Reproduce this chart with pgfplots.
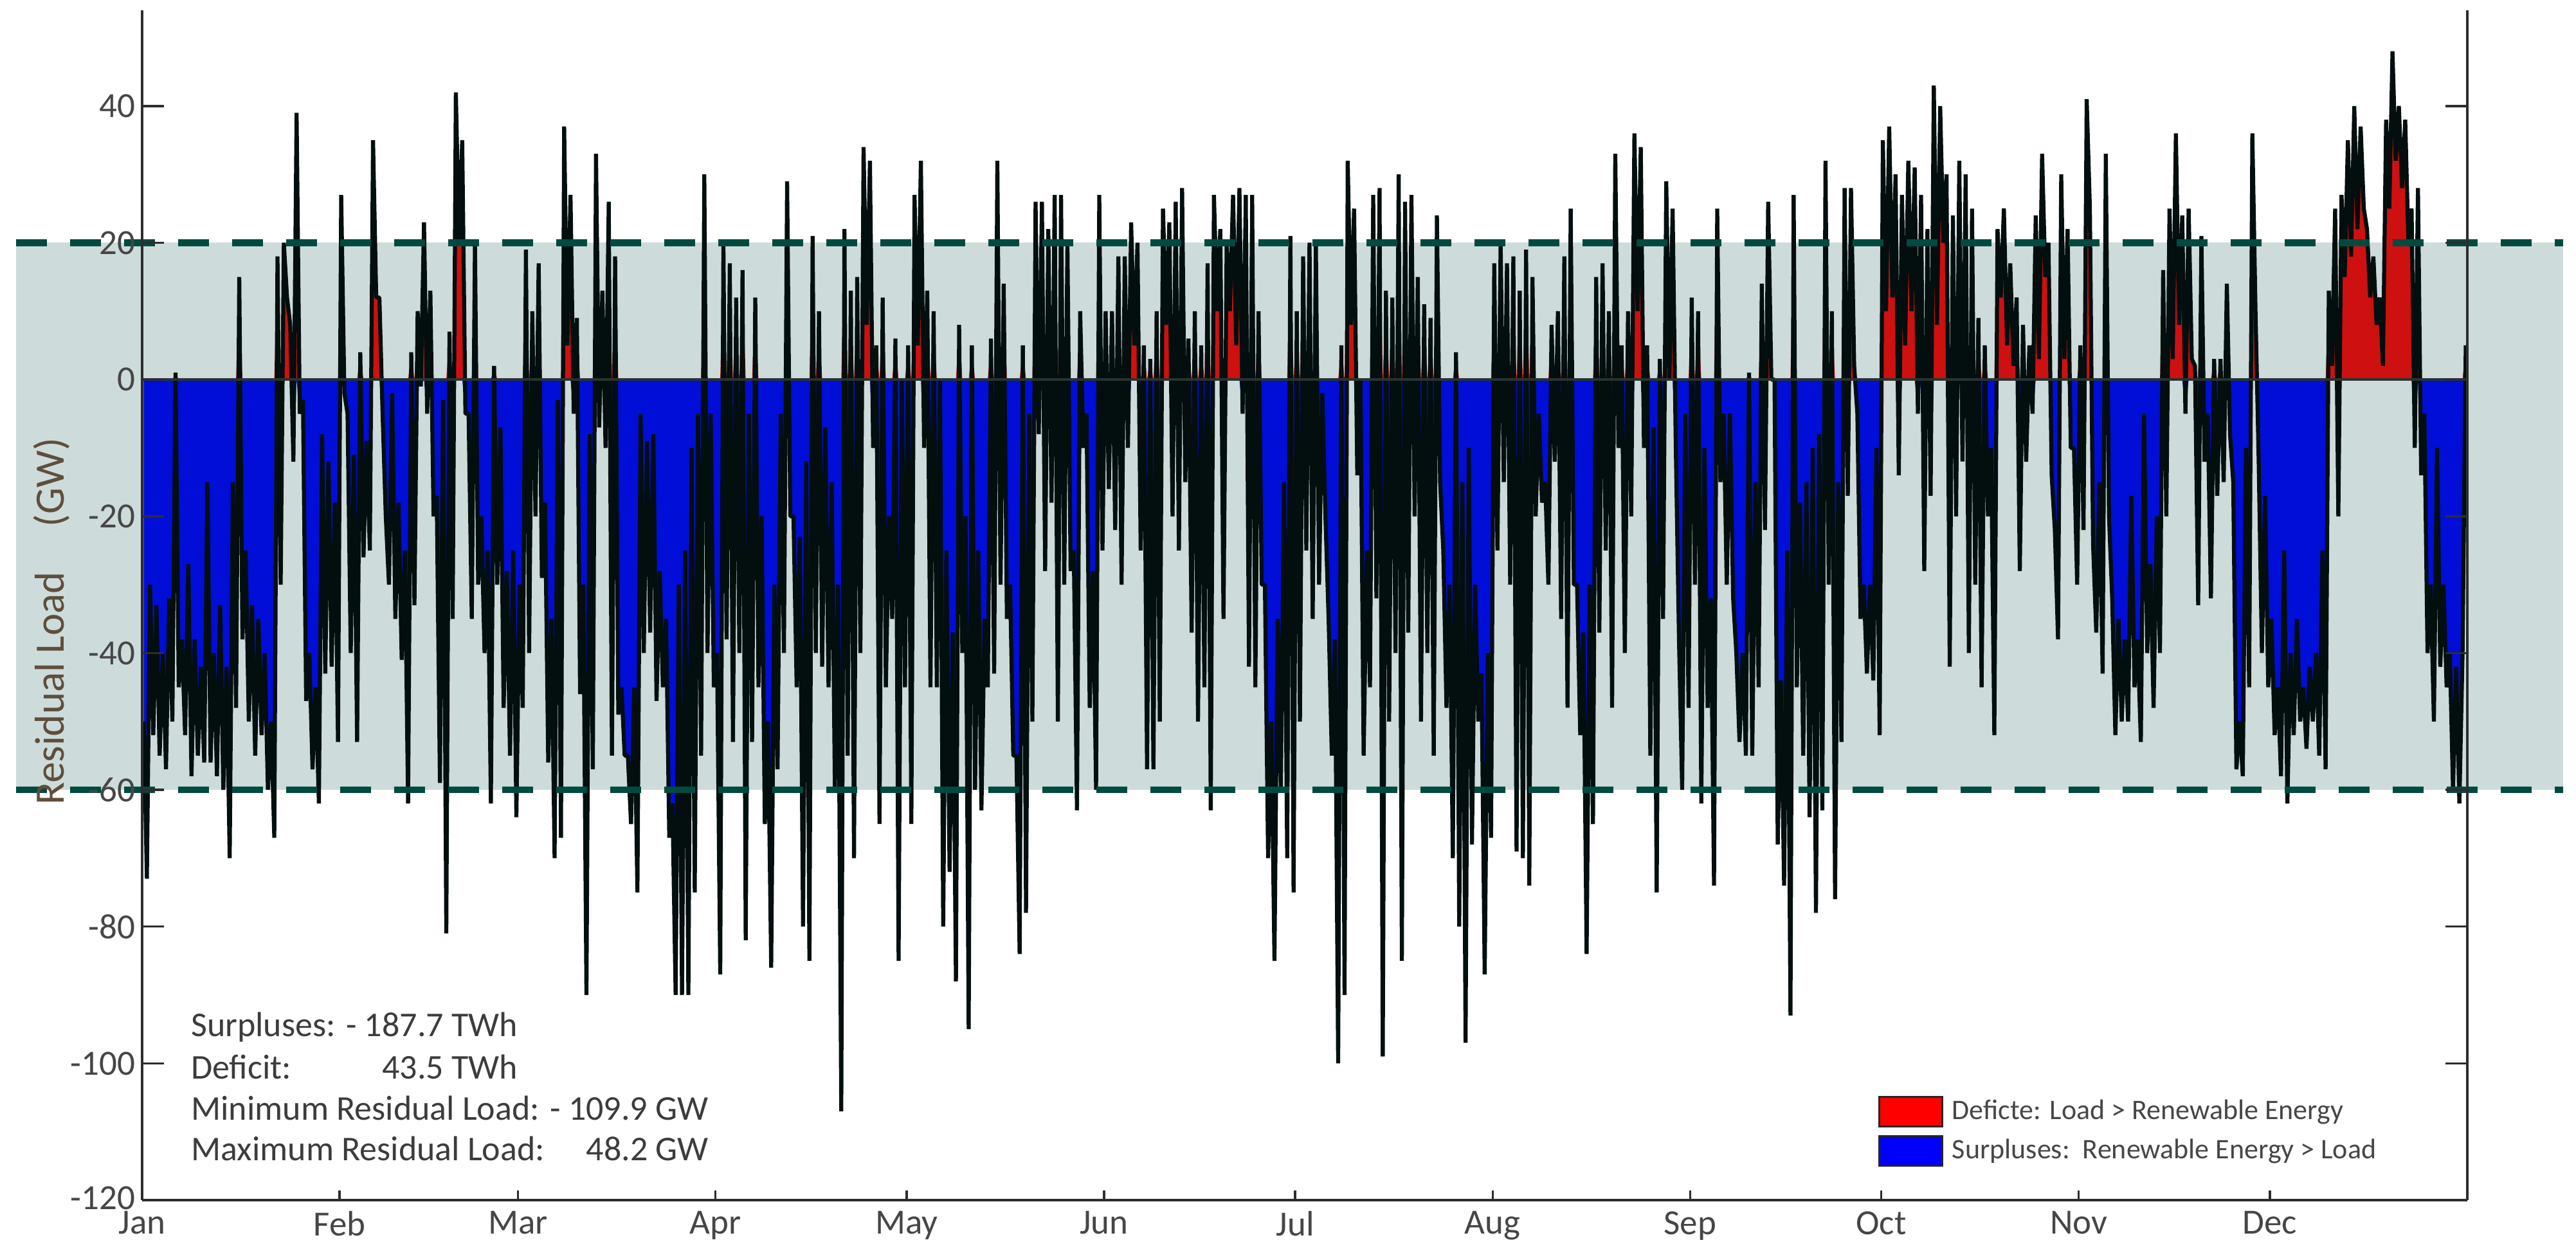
\documentclass[border=0pt]{standalone}
\usepackage{pgfplots}
\pgfplotsset{compat=1.18}
\usepackage{pgfplotstable}
\usepackage{fontspec}
\setmainfont{Carlito}
\definecolor{bandcol}{RGB}{205,219,219}
\definecolor{dashcol}{RGB}{0,74,64}
\definecolor{fillblue}{RGB}{0,14,216}
\definecolor{fillred}{RGB}{206,16,16}
\definecolor{legred}{RGB}{255,0,0}
\definecolor{legblue}{RGB}{0,0,255}
\definecolor{linecol}{RGB}{3,14,14}
\definecolor{axiscol}{RGB}{45,45,45}
\definecolor{labelcol}{RGB}{70,70,70}
\definecolor{statcol}{RGB}{60,60,60}
\definecolor{ylabcol}{RGB}{95,78,60}
\definecolor{zerocol}{RGB}{40,52,48}
\newcommand\statfont{\fontsize{10.8}{13}\selectfont}
% residual load, two readings per day (day 0 = 1 Jan)
\pgfplotstableread[row sep=\\]{v\\
-50\\ -73\\ -30\\ -52\\ -33\\ -55\\ -40\\ -57\\ -32\\ -50\\ 1\\ -45\\ -38\\ -52\\ -27\\ -58\\ -38\\ -55\\ -42\\ -56\\
-15\\ -56\\ -40\\ -58\\ -33\\ -60\\ -42\\ -70\\ -15\\ -48\\ 15\\ -38\\ -25\\ -50\\ -33\\ -55\\ -35\\ -52\\ -40\\ -60\\
-50\\ -67\\ 18\\ -30\\ 20\\ 12\\ 8\\ -12\\ 39\\ -5\\ -3\\ -47\\ -40\\ -57\\ -45\\ -62\\ -8\\ -43\\ -12\\ -42\\
-18\\ -53\\ 27\\ -2\\ -5\\ -40\\ -11\\ -53\\ 4\\ -26\\ -9\\ -25\\ 35\\ 12\\ 12\\ -5\\ -20\\ -30\\ -2\\ -35\\
-18\\ -41\\ -25\\ -62\\ 4\\ -33\\ 10\\ -1\\ 23\\ -5\\ 13\\ -20\\ -17\\ -59\\ -3\\ -81\\ 7\\ -35\\ 42\\ 20\\
35\\ -5\\ -5\\ -35\\ 20\\ -30\\ -20\\ -40\\ -25\\ -62\\ 2\\ -30\\ -7\\ -48\\ -28\\ -55\\ -25\\ -64\\ -30\\ -48\\
19\\ -40\\ 10\\ -20\\ 17\\ -29\\ -18\\ -56\\ -35\\ -70\\ -3\\ -67\\ 37\\ 5\\ 27\\ -5\\ 9\\ -46\\ -30\\ -90\\
-8\\ -57\\ 33\\ -7\\ 13\\ -10\\ 26\\ -55\\ 18\\ -49\\ -45\\ -55\\ -55\\ -65\\ -45\\ -75\\ -5\\ -40\\ -9\\ -37\\
-8\\ -47\\ -28\\ -45\\ -35\\ -67\\ -62\\ -90\\ -30\\ -90\\ -25\\ -90\\ -10\\ -75\\ -5\\ -55\\ 30\\ -40\\ -5\\ -45\\
-40\\ -87\\ 20\\ -38\\ 17\\ -53\\ 12\\ -40\\ 16\\ -82\\ -5\\ -53\\ 12\\ -45\\ -20\\ -65\\ -50\\ -86\\ -30\\ -57\\
-5\\ -40\\ 29\\ -20\\ -20\\ -45\\ -23\\ -80\\ -12\\ -85\\ 21\\ -40\\ 10\\ -42\\ -7\\ -45\\ -15\\ -60\\ -30\\ -107\\
22\\ -55\\ 13\\ -70\\ 15\\ -40\\ 34\\ 8\\ 32\\ -10\\ 5\\ -65\\ 12\\ -45\\ -20\\ -35\\ 6\\ -85\\ 0\\ -45\\
5\\ -65\\ 27\\ 5\\ 32\\ -10\\ 13\\ -45\\ 10\\ -45\\ 0\\ -80\\ -25\\ -72\\ -37\\ -88\\ 8\\ -40\\ -20\\ -95\\
5\\ -60\\ -25\\ -63\\ -35\\ -45\\ 6\\ -43\\ 32\\ -30\\ 14\\ -35\\ -30\\ -55\\ -55\\ -84\\ 5\\ -78\\ -5\\ -50\\
26\\ -8\\ 26\\ -28\\ 22\\ -18\\ 27\\ -50\\ 27\\ -30\\ 20\\ -28\\ -25\\ -63\\ 10\\ -10\\ -5\\ -48\\ -28\\ -60\\
27\\ -25\\ 10\\ -16\\ 10\\ -22\\ 18\\ -30\\ 18\\ -10\\ 23\\ 5\\ 20\\ -25\\ 5\\ -57\\ 3\\ -57\\ 10\\ -50\\
25\\ 8\\ 23\\ -20\\ 26\\ -25\\ 28\\ -15\\ 6\\ -37\\ 10\\ -50\\ 5\\ -45\\ 17\\ -63\\ 27\\ 10\\ 22\\ -35\\
20\\ 10\\ 27\\ 5\\ 28\\ -5\\ 27\\ -42\\ 27\\ -45\\ 10\\ -30\\ -30\\ -70\\ -50\\ -85\\ -35\\ -60\\ -15\\ -70\\
21\\ -75\\ 10\\ -50\\ 18\\ -25\\ 20\\ -35\\ 20\\ -30\\ -2\\ -20\\ -35\\ -55\\ -38\\ -100\\ 5\\ -90\\ 32\\ 8\\
25\\ -14\\ 0\\ -55\\ -25\\ -45\\ 27\\ -32\\ 28\\ -99\\ 13\\ -50\\ 12\\ -40\\ 30\\ -85\\ 26\\ -37\\ 27\\ -20\\
15\\ -50\\ 11\\ -40\\ 9\\ -55\\ 24\\ -15\\ -25\\ -48\\ -30\\ -70\\ 4\\ -80\\ -15\\ -97\\ -10\\ -68\\ -30\\ -50\\
-43\\ -87\\ -40\\ -67\\ 17\\ -25\\ 20\\ -15\\ 17\\ -30\\ 18\\ -69\\ 13\\ -70\\ 19\\ -74\\ 15\\ -20\\ -5\\ -18\\
-15\\ -30\\ 8\\ -12\\ 10\\ -35\\ 18\\ -48\\ 25\\ -30\\ -30\\ -52\\ -37\\ -84\\ -30\\ -65\\ 15\\ -37\\ 17\\ -25\\
10\\ -48\\ 33\\ -10\\ 5\\ -40\\ 10\\ -20\\ 36\\ 10\\ 34\\ -10\\ 5\\ -55\\ -7\\ -75\\ 3\\ -35\\ 29\\ 0\\
25\\ -10\\ -38\\ -60\\ -5\\ -48\\ 12\\ -30\\ 10\\ -62\\ -10\\ -48\\ -32\\ -74\\ 25\\ -15\\ -5\\ -30\\ -5\\ -32\\
-40\\ -53\\ -40\\ -55\\ 1\\ -55\\ -15\\ -45\\ 14\\ -22\\ 26\\ 0\\ 0\\ -68\\ -44\\ -74\\ -25\\ -93\\ 27\\ -45\\
-18\\ -55\\ -15\\ -64\\ -10\\ -78\\ -8\\ -63\\ 32\\ -30\\ 10\\ -76\\ -15\\ -53\\ 28\\ -17\\ 28\\ 2\\ -5\\ -35\\
-30\\ -43\\ -30\\ -44\\ -10\\ -52\\ 35\\ 10\\ 37\\ 12\\ 30\\ -14\\ 27\\ 5\\ 32\\ 10\\ 31\\ -5\\ 27\\ -28\\
22\\ -17\\ 43\\ 8\\ 40\\ 20\\ 30\\ -42\\ 24\\ -20\\ 32\\ -12\\ 30\\ -40\\ 25\\ -30\\ 9\\ -45\\ 5\\ -20\\
-10\\ -52\\ 22\\ 12\\ 25\\ 5\\ 17\\ 2\\ 12\\ -28\\ 8\\ -12\\ 5\\ -5\\ 24\\ 3\\ 33\\ 15\\ 20\\ -14\\
-22\\ -38\\ 30\\ 3\\ 22\\ -10\\ -10\\ -30\\ 5\\ -22\\ 41\\ 25\\ -24\\ -37\\ -15\\ -43\\ 33\\ -20\\ -32\\ -52\\
-35\\ -50\\ -38\\ -50\\ -17\\ -45\\ -38\\ -53\\ -5\\ -40\\ -27\\ -48\\ -20\\ -40\\ 16\\ -20\\ 25\\ 3\\ 36\\ 8\\
24\\ -5\\ 25\\ 3\\ 2\\ -33\\ 21\\ -12\\ -5\\ -32\\ 3\\ -17\\ 3\\ -15\\ 14\\ -8\\ -15\\ -57\\ -50\\ -58\\
-10\\ -45\\ 36\\ 10\\ -12\\ -40\\ -17\\ -45\\ -35\\ -52\\ -45\\ -58\\ -25\\ -62\\ -40\\ -52\\ -35\\ -50\\ -45\\ -54\\
-42\\ -50\\ -40\\ -55\\ -25\\ -57\\ 13\\ 2\\ 25\\ -20\\ 27\\ 15\\ 35\\ 18\\ 40\\ 22\\ 37\\ 25\\ 22\\ 12\\
18\\ 8\\ 12\\ 2\\ 38\\ 25\\ 48\\ 32\\ 40\\ 28\\ 38\\ 20\\ 25\\ -10\\ 28\\ -14\\ -5\\ -40\\ -30\\ -50\\
-10\\ -42\\ -30\\ -45\\ -40\\ -60\\ -42\\ -62\\ -40\\ 5\\
}\rl
\begin{document}
\begin{tikzpicture}
\begin{axis}[
  at={(0pt,0pt)}, anchor=south west,
  scale only axis, width=723.2pt, height=370pt,
  xmin=0, xmax=365, ymin=-120, ymax=54,
  axis x line=bottom, axis y line=box,
  axis line style={-, draw=axiscol, line width=0.7pt},
  every outer x axis line/.append style={-},
  every outer y axis line/.append style={-},
  every inner x axis line/.append style={-},
  every inner y axis line/.append style={-},
  xtick={0,31,59,90,120,151,181,212,243,273,304,334},
  xticklabels={Jan,Feb,Mar,Apr,May,Jun,Jul,Aug,Sep,Oct,Nov,Dec},
  ytick={-120,-100,-80,-60,-40,-20,0,20,40},
  yticklabels={\raisebox{1.5pt}{-120},-100,-80,-60,-40,-20,0,20,40},
  tick align=inside,
  major tick length=6.8pt,
  xtick style={/pgfplots/major tick length=3pt, draw=axiscol, line width=0.7pt},
  ytick style={draw=axiscol, line width=0.7pt},
  ticklabel style={font=\fontsize{11}{13}\selectfont, text=labelcol},
  yticklabel style={xshift=1.4pt},
  clip=false, axis on top,
  legend cell align=left,
  legend style={at={(0.7468,0.0874)}, anchor=north west, draw=none, fill=none,
    inner sep=0pt, outer sep=0pt, row sep=2.4pt, column sep=2.7pt,
    font=\fontsize{8.8}{10}\selectfont, text=labelcol,
    nodes={inner sep=0pt, anchor=west}},
]
\fill[bandcol] (axis cs:-19.8,-60) rectangle (axis cs:380,20);
\addplot[draw=none, fill=fillblue, forget plot]
  table[x index=0, y index=0, x expr=\coordindex*0.5+0.25, y expr={min(\thisrow{v},0)}] {\rl} \closedcycle;
\addplot[draw=none, fill=fillred, forget plot]
  table[x index=0, y index=0, x expr=\coordindex*0.5+0.25, y expr={max(\thisrow{v},0)}] {\rl} \closedcycle;
\addplot[linecol, line width=1.25pt, line join=bevel, forget plot]
  table[x index=0, y index=0, x expr=\coordindex*0.5+0.25] {\rl};
\addplot[zerocol, line width=0.7pt, forget plot] coordinates {(0,0) (365,0)};
\draw[dashcol, line width=2.1pt, dash pattern=on 9.6pt off 7.2pt] (axis cs:-19.8,20) -- (axis cs:380,20);
\draw[dashcol, line width=2.1pt, dash pattern=on 9.6pt off 7.2pt] (axis cs:-19.8,-60) -- (axis cs:380,-60);
\addlegendimage{legend image code/.code={\filldraw[fill=legred, draw=black!85, line width=0.6pt] (0pt,-4.6pt) rectangle (19.6pt,4.6pt);}}
\addlegendentry{Deficte: Load > Renewable Energy}
\addlegendimage{legend image code/.code={\filldraw[fill=legblue, draw=black!85, line width=0.6pt] (0pt,-4.6pt) rectangle (19.6pt,4.6pt);}}
\addlegendentry{Surpluses:\ \ Renewable Energy > Load}
% statistics
\node[anchor=base west, inner sep=0pt, font=\statfont, text=statcol] (s1) at (axis cs:7.6,-96.1) {Surpluses: - 187.7 TWh};
\coordinate (r2) at (axis cs:7.6,-102.3);
\node[anchor=base west, inner sep=0pt, font=\statfont, text=statcol] at (r2) {Deficit:};
\node[anchor=base east, inner sep=0pt, font=\statfont, text=statcol] at (s1.base east |- r2) {43.5 TWh};
\node[anchor=base west, inner sep=0pt, font=\statfont, text=statcol] (s3) at (axis cs:7.6,-108.3) {Minimum Residual Load: - 109.9 GW};
\coordinate (r4) at (axis cs:7.6,-114.2);
\node[anchor=base west, inner sep=0pt, font=\statfont, text=statcol] at (r4) {Maximum Residual Load:};
\node[anchor=base east, inner sep=0pt, font=\statfont, text=statcol] at (s3.base east |- r4) {48.2 GW};
% y axis label
\node[rotate=90, inner sep=0pt, font=\fontsize{13}{15}\selectfont, text=ylabcol] at ([xshift=-28.2pt]axis cs:0,-35.4) {Residual Load\hspace{14pt}(GW)};
\end{axis}
\pgfresetboundingbox
\useasboundingbox (-44.2pt,-12.4pt) rectangle (757pt,373.2pt);
\end{tikzpicture}
\end{document}
